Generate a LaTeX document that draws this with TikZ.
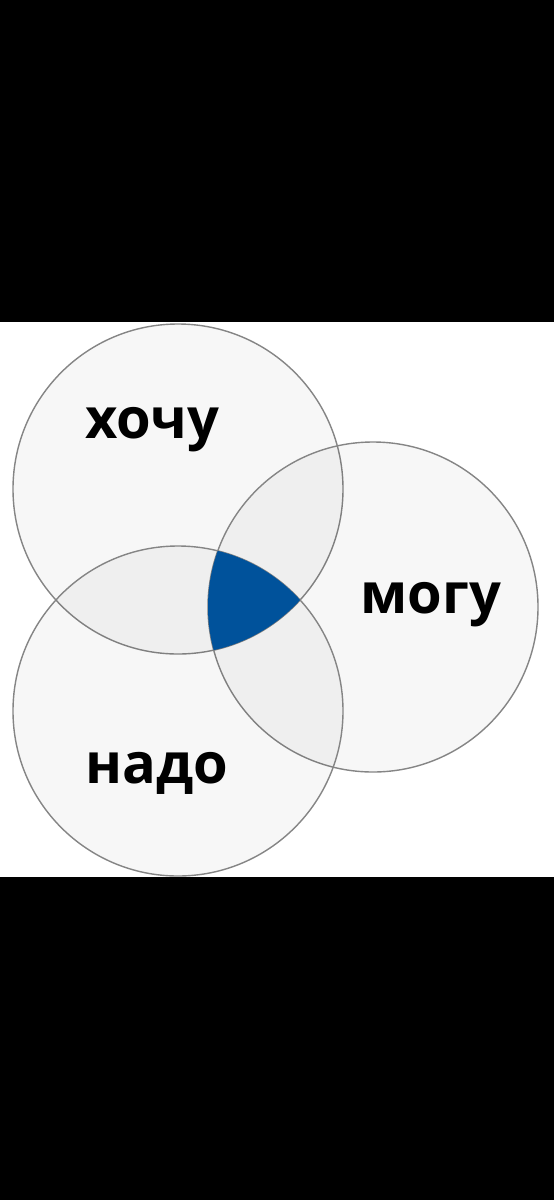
\documentclass[tikz,border=0pt]{standalone}
\usepackage{fontspec}
\setmainfont{Open Sans}
\usetikzlibrary{positioning}
\definecolor{setline}{HTML}{858585}
\definecolor{coreblue}{RGB}{0,82,155}
\tikzset{
    setcircle/.style = {
        draw=setline,
        shape=circle,
        minimum size=330pt,
        inner sep=0pt,
        line width=1.4pt,
        fill=black,
        fill opacity=0.032
    },
    setlabel/.style = {
        anchor=base,
        inner sep=0pt,
        font=\fontsize{56}{60}\selectfont\bfseries
    },
}
\begin{document}
\begin{tikzpicture}[x=1pt,y=-1pt]
                \useasboundingbox (0,0) rectangle (554,1200);
                \fill[black] (0,0) rectangle (554,1200);
                \fill[white] (0,322) rectangle (554,877);

                \node[setcircle] (want) at (178,489) {};
                \node[setcircle] (can) at (373,607) {};
                \node[setcircle] (must) at (178,711) {};

                % common part of all three
                \begin{scope}
                    \clip (want.center) circle[radius=165pt];
                    \clip (can.center) circle[radius=165pt];
                    \fill[coreblue] (must.center) circle[radius=165pt];
                \end{scope}

                \node[setlabel] (wantlabel) at (152,438) {хочу};
                \node[setlabel] (canlabel) at (431,613) {могу};
                \node[setlabel] (mustlabel) at (157,783) {надо};
            \end{tikzpicture}
\end{document}
